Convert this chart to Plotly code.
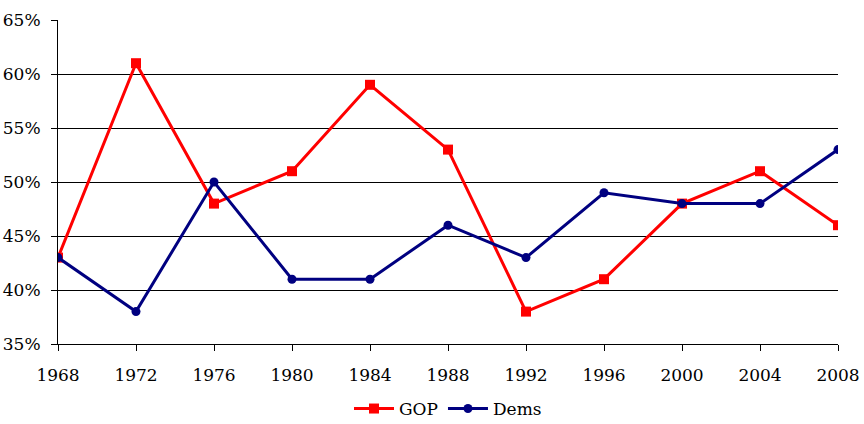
import plotly.graph_objects as go

years = [1968, 1972, 1976, 1980, 1984, 1988, 1992, 1996, 2000, 2004, 2008]
gop = [43, 61, 48, 51, 59, 53, 38, 41, 48, 51, 46]
dems = [43, 38, 50, 41, 41, 46, 43, 49, 48, 48, 53]
ytick_vals = [35, 40, 45, 50, 55, 60, 65]
ytick_text = ["35%", "40%", "45%", "50%", "55%", "60%", "65%"]

font_family = "Georgia, 'DejaVu Serif', 'Liberation Serif', serif"

fig = go.Figure()
fig.add_trace(go.Scatter(
    x=years, y=gop, name="GOP", mode="lines+markers",
    line=dict(color="#FF0000", width=3),
    marker=dict(symbol="square", size=10, color="#FF0000"),
))
fig.add_trace(go.Scatter(
    x=years, y=dems, name="Dems", mode="lines+markers",
    line=dict(color="#000080", width=3),
    marker=dict(symbol="circle", size=9, color="#000080"),
))

fig.update_layout(
    width=864, height=424,
    margin=dict(l=58, r=26, t=20, b=80, autoexpand=False),
    plot_bgcolor="white", paper_bgcolor="white",
    font=dict(family=font_family, size=17, color="black"),
    showlegend=True,
    legend=dict(orientation="h", x=0.5, xanchor="center", y=-0.145, yanchor="top",
                font=dict(size=17), itemwidth=40),
    xaxis=dict(
        range=[1968, 2008], tickvals=years, ticktext=[str(y) for y in years],
        showgrid=False, zeroline=False, showline=True, linecolor="black", linewidth=1,
        ticks="outside", ticklen=6, tickcolor="black", automargin=False,
        ticklabelstandoff=10,
    ),
    yaxis=dict(
        range=[35, 65], tickvals=ytick_vals, ticktext=ytick_text,
        showgrid=True, gridcolor="black", gridwidth=1, zeroline=False,
        showline=True, linecolor="black", linewidth=1,
        ticks="outside", ticklen=6, tickcolor="black", automargin=False,
        ticklabelstandoff=7,
    ),
)

fig.write_html("out.html",
               config={"displayModeBar": False},
               post_script="document.body.style.margin='0';document.body.style.overflow='hidden';")
